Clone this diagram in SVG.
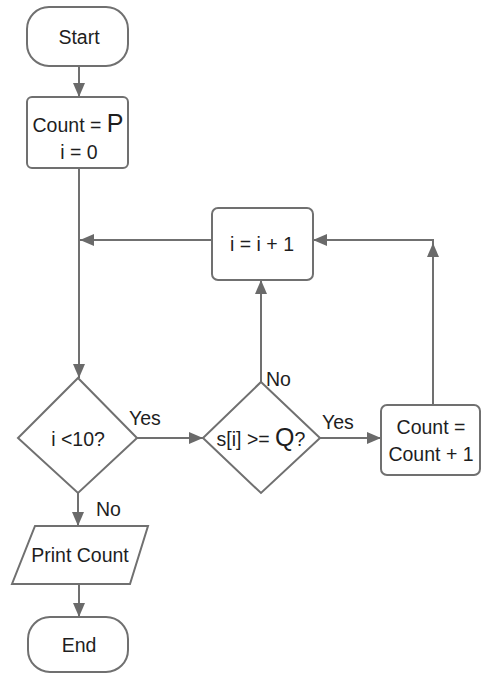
<svg xmlns="http://www.w3.org/2000/svg" width="485" height="674" viewBox="0 0 485 674">
<style>
.shape{fill:#fff;stroke:#707070;stroke-width:2}
.conn{fill:none;stroke:#707070;stroke-width:2}
text{font-family:"Liberation Sans",Arial,sans-serif;font-size:19.5px;fill:#1e1e1e;text-anchor:middle}
.lbl{text-anchor:start}
.big{font-size:25px}
</style>
<defs>
<marker id="ah" markerUnits="userSpaceOnUse" markerWidth="14" markerHeight="12" refX="14" refY="6" orient="auto">
<path d="M0,0 L14,6 L0,12 z" fill="#6a6a6a"/>
</marker>
</defs>
<rect width="485" height="674" fill="#fff"/>
<g id="connectors">
<path class="conn" d="M79,66 V97" marker-end="url(#ah)"/>
<path class="conn" d="M79,168 V378" marker-end="url(#ah)"/>
<path class="conn" d="M212,240 H80" marker-end="url(#ah)"/>
<path class="conn" d="M137,438 H203" marker-end="url(#ah)"/>
<path class="conn" d="M320,438 H381" marker-end="url(#ah)"/>
<path class="conn" d="M261,382 V280" marker-end="url(#ah)"/>
<path class="conn" d="M433,405 V243" marker-end="url(#ah)"/>
<path class="conn" d="M433,243 V240 H313" marker-end="url(#ah)"/>
<path class="conn" d="M78,493 V526" marker-end="url(#ah)"/>
<path class="conn" d="M79,584 V617" marker-end="url(#ah)"/>
<text class="lbl" x="129" y="425">Yes</text>
<text class="lbl" x="96" y="516">No</text>
<text class="lbl" x="266" y="386">No</text>
<text class="lbl" x="322" y="429">Yes</text>
</g>
<g id="start">
<rect class="shape" x="27" y="7" width="101" height="59" rx="22"/>
<text x="79" y="44">Start</text>
</g>
<g id="init">
<rect class="shape" x="27" y="97" width="101" height="71" rx="5"/>
<text x="78" y="132">Count = <tspan class="big">P</tspan></text>
<text x="79" y="159">i = 0</text>
</g>
<g id="inc">
<rect class="shape" x="212" y="208" width="101" height="72" rx="6"/>
<text x="262" y="251">i = i + 1</text>
</g>
<g id="cond1">
<polygon class="shape" points="78,378 137,438 78,493 18,438"/>
<text x="78" y="446">i &lt;10?</text>
</g>
<g id="cond2">
<polygon class="shape" points="261,382 320,438 261,493 203,438"/>
<text x="261" y="446">s[i] &gt;= <tspan class="big">Q</tspan>?</text>
</g>
<g id="incr">
<rect class="shape" x="381" y="405" width="99" height="70" rx="6"/>
<text x="431" y="434">Count =</text>
<text x="431" y="461">Count + 1</text>
</g>
<g id="print">
<polygon class="shape" points="35,526 148,526 130,584 12,584"/>
<text x="80" y="562">Print Count</text>
</g>
<g id="end">
<rect class="shape" x="28" y="617" width="100" height="55" rx="22"/>
<text x="79" y="652">End</text>
</g>
</svg>
